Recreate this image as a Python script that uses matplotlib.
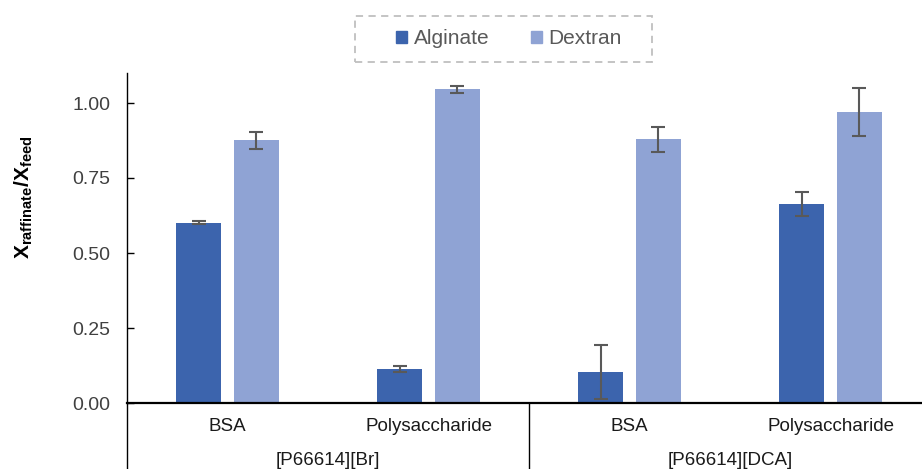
import numpy as np
import matplotlib
matplotlib.use("Agg")
import matplotlib.pyplot as plt
from matplotlib.patches import Patch, Rectangle

plt.rcParams['font.family'] = ['Liberation Sans', 'DejaVu Sans']
plt.rcParams['mathtext.fontset'] = 'custom'
plt.rcParams['mathtext.rm'] = 'Liberation Sans'
plt.rcParams['mathtext.bf'] = 'Liberation Sans:bold'

# data
categories = ['BSA', 'Polysaccharide', 'BSA', 'Polysaccharide']
groups = ['[P66614][Br]', '[P66614][DCA]']
alginate = [0.600, 0.114, 0.103, 0.663]
alginate_err = [0.005, 0.011, 0.090, 0.041]
dextran = [0.875, 1.046, 0.879, 0.970]
dextran_err = [0.029, 0.012, 0.042, 0.080]

c_alg = '#3C64AD'
c_dex = '#8FA3D4'
c_err = '#595959'

fig = plt.figure(figsize=(9.22, 4.69), dpi=100)
ax = fig.add_axes([127/922, 66/469, 804/922, 330/469])

x = np.arange(len(categories))
w = 0.224
off = 0.143
ax.bar(x - off, alginate, w, color=c_alg, yerr=alginate_err,
       error_kw=dict(ecolor=c_err, elinewidth=1.5, capsize=5, capthick=1.5))
ax.bar(x + off, dextran, w, color=c_dex, yerr=dextran_err,
       error_kw=dict(ecolor=c_err, elinewidth=1.5, capsize=5, capthick=1.5))

ax.set_xlim(-0.5, len(categories) - 0.5)
ax.set_ylim(0, 1.1)
ax.set_yticks([0, 0.25, 0.5, 0.75, 1.0])
ax.set_yticklabels(['0.00', '0.25', '0.50', '0.75', '1.00'])
ax.tick_params(axis='y', direction='in', length=5, width=1, labelsize=14,
               labelcolor='#404040', pad=12)
ax.set_xticks(x)
ax.set_xticklabels(categories, fontsize=13.5, color='#1a1a1a')
ax.tick_params(axis='x', length=0, pad=11)

for s in ['top', 'right']:
    ax.spines[s].set_visible(False)
ax.spines['left'].set_linewidth(1)
ax.spines['bottom'].set_linewidth(1.6)

# group separators below the axis
trans = ax.get_xaxis_transform()
for xv in [-0.5, 1.5, 3.5]:
    ax.plot([xv, xv], [0, -0.3], color='black', lw=1, transform=trans, clip_on=False)
for i, g in enumerate(groups):
    ax.text(2 * i + 0.5, -0.175, g, transform=trans, ha='center', va='center',
            fontsize=13.5, color='#1a1a1a')

fig.text(24/922, 1 - 197/469, r'$\mathbf{X_{raffinate}/X_{feed}}$', fontsize=15,
         rotation=90, ha='center', va='center')

# legend with dashed box
handles = [Patch(color=c_alg, label='Alginate'), Patch(color=c_dex, label='Dextran')]
fig.legend(handles=handles, loc='center', bbox_to_anchor=(509/922, 1 - 39/469),
           ncol=2, frameon=False, fontsize=15, handlelength=0.55, handleheight=0.55,
           handletextpad=0.3, columnspacing=2.0, labelcolor='#595959')
fig.patches.append(Rectangle((355/922, 1 - 62/469), 297/922, 46/469,
                             transform=fig.transFigure, fill=False,
                             edgecolor='#BFBFBF', lw=1.3, linestyle=(0, (4, 3))))

fig.savefig('out.png', dpi=100)
